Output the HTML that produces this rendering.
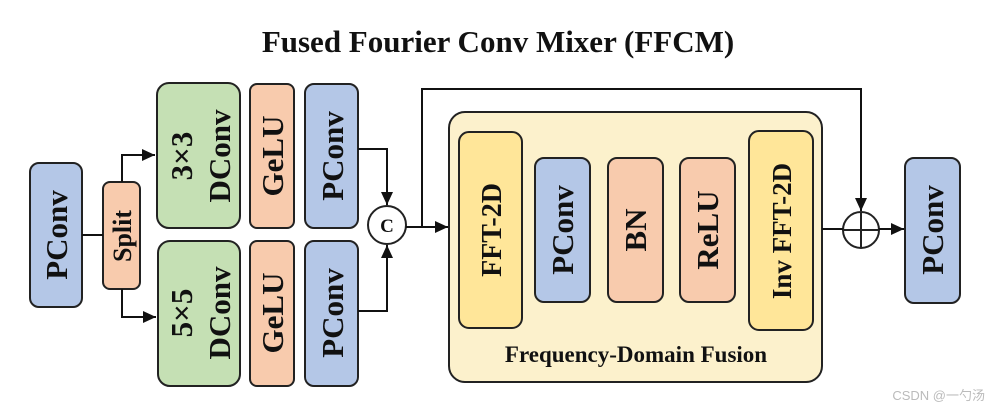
<!DOCTYPE html>
<html><head><style>
html,body{margin:0;padding:0;background:#fff;}
svg{display:block;}
text{font-family:"Liberation Serif",serif;font-weight:bold;fill:#111;}
</style></head><body>
<svg width="993" height="413" viewBox="0 0 993 413" xmlns="http://www.w3.org/2000/svg">
<defs>
<marker id="a" markerWidth="14" markerHeight="14" refX="13" refY="6" orient="auto" markerUnits="userSpaceOnUse">
<path d="M0,0 L13,6 L0,12 z" fill="#111"/></marker>
</defs>
<text x="498" y="52" font-size="31" text-anchor="middle">Fused Fourier Conv Mixer (FFCM)</text>
<g stroke="#222" stroke-width="2">
<rect x="30" y="163" width="52" height="144" rx="9" fill="#b4c7e7"/>
<rect x="103" y="182" width="37" height="107" rx="7" fill="#f8cbad"/>
<rect x="157" y="83" width="83" height="145" rx="12" fill="#c5e0b4"/>
<rect x="158" y="241" width="82" height="145" rx="12" fill="#c5e0b4"/>
<rect x="250" y="84" width="44" height="144" rx="7" fill="#f8cbad"/>
<rect x="250" y="241" width="44" height="145" rx="7" fill="#f8cbad"/>
<rect x="305" y="84" width="53" height="144" rx="9" fill="#b4c7e7"/>
<rect x="305" y="241" width="53" height="145" rx="9" fill="#b4c7e7"/>
<rect x="449" y="112" width="373" height="270" rx="16" fill="#fcf1cc"/>
<rect x="459" y="132" width="63" height="196" rx="10" fill="#ffe699"/>
<rect x="535" y="158" width="55" height="144" rx="9" fill="#b4c7e7"/>
<rect x="608" y="158" width="55" height="144" rx="9" fill="#f8cbad"/>
<rect x="680" y="158" width="55" height="144" rx="9" fill="#f8cbad"/>
<rect x="749" y="131" width="64" height="199" rx="10" fill="#ffe699"/>
<rect x="905" y="158" width="55" height="145" rx="9" fill="#b4c7e7"/>
<circle cx="387" cy="225" r="19" fill="#fff"/>
<circle cx="861" cy="230" r="18" fill="#fff"/>
<line x1="861" y1="212" x2="861" y2="248"/>
<line x1="843" y1="230" x2="879" y2="230"/>
</g>
<g stroke="#111" stroke-width="2" fill="none">
<line x1="82" y1="235" x2="103" y2="235"/>
<polyline points="122,182 122,155 155,155" marker-end="url(#a)"/>
<polyline points="122,289 122,317 156,317" marker-end="url(#a)"/>
<polyline points="358,149 387,149 387,205" marker-end="url(#a)"/>
<polyline points="358,311 387,311 387,245" marker-end="url(#a)"/>
<line x1="406" y1="227" x2="448" y2="227" marker-end="url(#a)"/>
<polyline points="422,227 422,89 861,89 861,211" marker-end="url(#a)"/>
<line x1="822" y1="229" x2="843" y2="229"/>
<line x1="879" y1="229" x2="904" y2="229" marker-end="url(#a)"/>
</g>
<text x="387" y="232" font-size="19" text-anchor="middle">C</text>
<g font-size="31" text-anchor="middle">
<text transform="translate(67,235) rotate(-90)">PConv</text>
<text transform="translate(131,236) rotate(-90)" font-size="26">Split</text>
<text transform="translate(192,156) rotate(-90)">3×3</text>
<text transform="translate(230,156) rotate(-90)">DConv</text>
<text transform="translate(192,313) rotate(-90)">5×5</text>
<text transform="translate(230,313) rotate(-90)">DConv</text>
<text transform="translate(283,156) rotate(-90)">GeLU</text>
<text transform="translate(283,313) rotate(-90)">GeLU</text>
<text transform="translate(343,156) rotate(-90)">PConv</text>
<text transform="translate(343,313) rotate(-90)">PConv</text>
<text transform="translate(501,230) rotate(-90)" font-size="28">FFT-2D</text>
<text transform="translate(573,230) rotate(-90)">PConv</text>
<text transform="translate(646,230) rotate(-90)">BN</text>
<text transform="translate(718,230) rotate(-90)">ReLU</text>
<text transform="translate(791,231) rotate(-90)" font-size="27">Inv FFT-2D</text>
<text transform="translate(943,230) rotate(-90)">PConv</text>
</g>
<text x="636" y="362" font-size="23" text-anchor="middle">Frequency-Domain Fusion</text>
<text x="985" y="400" font-size="13" text-anchor="end" style="font-family:'Liberation Sans','Noto Sans CJK SC',sans-serif;font-weight:normal;fill:#bbb">CSDN @一勺汤</text>
</svg>
</body></html>
